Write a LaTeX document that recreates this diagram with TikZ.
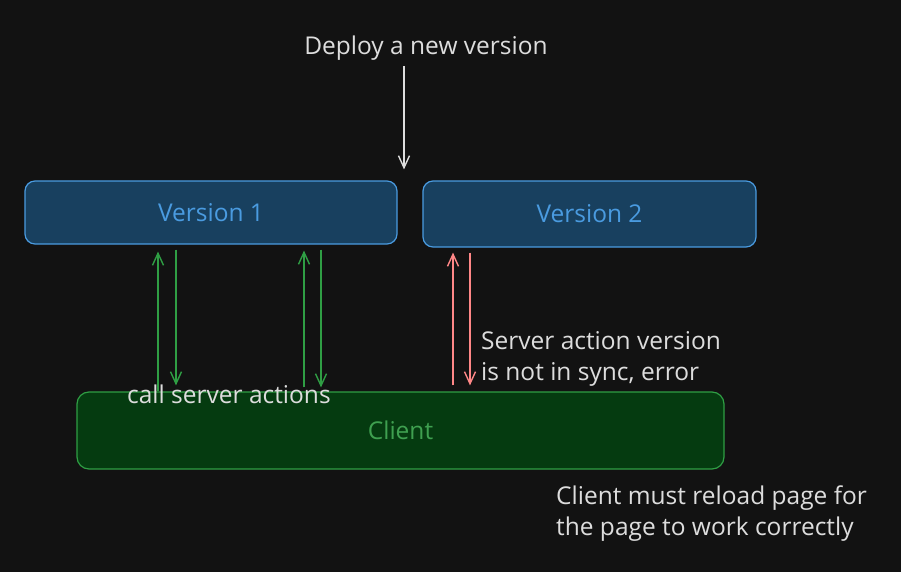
\documentclass[tikz,border=0pt]{standalone}
\usepackage{fontspec}
\setmainfont{Open Sans}
\usetikzlibrary{arrows.meta}
\definecolor{bg}{HTML}{121212}
\definecolor{vfill}{HTML}{18405F}
\definecolor{vline}{HTML}{4A9BE0}
\definecolor{cfill}{HTML}{053B10}
\definecolor{cline}{HTML}{2F9E44}
\definecolor{ctext}{HTML}{3FA050}
\definecolor{gar}{HTML}{2F9E44}
\definecolor{rar}{HTML}{FF8787}
\definecolor{txt}{HTML}{DDDDDD}
\tikzset{
  vbox/.style={draw=vline, fill=vfill, text=vline, rounded corners=10pt, line width=1.2pt, font=\fontsize{24.5}{30}\selectfont, inner sep=0pt},
  cbox/.style={draw=cline, fill=cfill, text=ctext, rounded corners=12pt, line width=1.2pt, font=\fontsize{24.5}{30}\selectfont, inner sep=0pt},
  lbl/.style={text=txt, font=\fontsize{24.5}{31}\selectfont, inner sep=0pt, align=left},
  arr/.style={line width=1.4pt, -{Straight Barb[length=12pt,width=11pt]}},
  garr/.style={arr, draw=gar},
  rarr/.style={arr, draw=rar},
  warr/.style={arr, draw=txt},
}
\begin{document}
\begin{tikzpicture}[x=1pt,y=-1pt]
\fill[bg] (0,0) rectangle (901,572);
\useasboundingbox (0,0) rectangle (901,572);

\node[vbox, minimum width=372pt, minimum height=63pt] (v1) at (211,212.5) {Version 1};
\node[vbox, minimum width=333pt, minimum height=66pt] (v2) at (589.5,214) {Version 2};
\node[cbox, minimum width=647pt, minimum height=77pt] (cl) at (400.5,430.5) {Client};

\node[lbl, anchor=base] (dep) at (426,55) {Deploy a new version};
\node[lbl, anchor=base west] (call) at (127,403) {call server actions};
\node[lbl, anchor=north west] (sync) at (481,331) {Server action version\\is not in sync, error};
\node[lbl, anchor=north west] (reload) at (556,485.5) {Client must reload page for\\the page to work correctly};

\coordinate (xw) at (404,0);
\coordinate (xa) at (158,0);
\coordinate (xb) at (176,0);
\coordinate (xc) at (304,0);
\coordinate (xd) at (321,0);
\coordinate (xe) at (453,0);
\coordinate (xf) at (470,0);

\draw[warr, shorten <=5pt, shorten >=11pt] (xw |- dep.south) -- (xw |- v2.north);
\draw[garr, shorten >=7pt] (xa |- cl.north) -- (xa |- v1.south);
\draw[garr, shorten <=5pt, shorten >=6pt] (xb |- v1.south) -- (xb |- cl.north);
\draw[garr, shorten <=4pt, shorten >=6pt] (xc |- cl.north) -- (xc |- v1.south);
\draw[garr, shorten <=5pt, shorten >=4pt] (xd |- v1.south) -- (xd |- cl.north);
\draw[rarr, shorten <=6pt, shorten >=5pt] (xe |- cl.north) -- (xe |- v2.south);
\draw[rarr, shorten <=5pt, shorten >=6pt] (xf |- v2.south) -- (xf |- cl.north);
\end{tikzpicture}
\end{document}
